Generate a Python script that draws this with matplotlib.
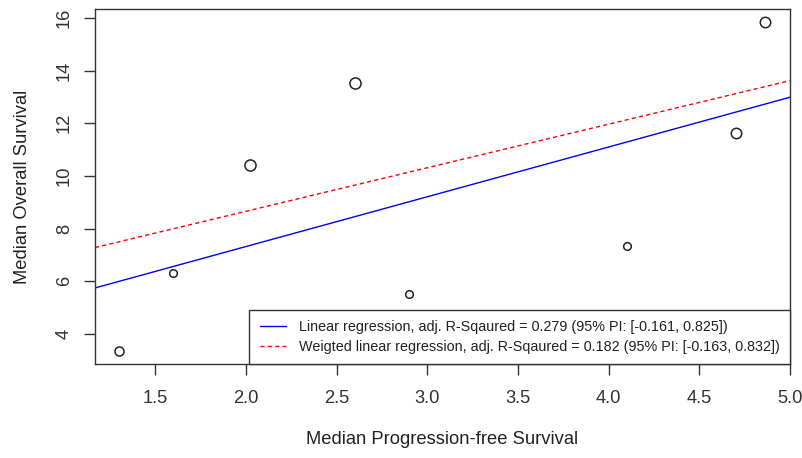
import matplotlib.pyplot as plt
import numpy as np

plt.rcParams['font.family'] = ['Liberation Sans', 'DejaVu Sans']

# median PFS / OS per study
pfs = [1.3, 1.6, 2.02, 2.6, 2.9, 4.1, 4.7, 4.86]
os_ = [3.37, 6.33, 10.4, 13.54, 5.52, 7.35, 11.62, 15.85]
marker_size = [6.5, 5.5, 8, 8, 5.5, 5.5, 7.5, 7.5]

# fitted lines: intercept, slope
lin_fit = [3.54, 1.89]
wlin_fit = [5.35, 1.654]

lin_label = 'Linear regression, adj. R-Sqaured = 0.279 (95% PI: [-0.161, 0.825])'
wlin_label = 'Weigted linear regression, adj. R-Sqaured = 0.182 (95% PI: [-0.163, 0.832])'

W, H = 803, 458
fig = plt.figure(figsize=(W / 100, H / 100), dpi=100)
ax = fig.add_axes([95 / W, 1 - 364 / H, (790 - 95) / W, (364 - 9) / H])

xlim = (1.168, 5.0)
ylim = (2.86, 16.34)
ax.set_xlim(xlim)
ax.set_ylim(ylim)

for x, y, s in zip(pfs, os_, marker_size):
    ax.plot(x, y, 'o', mfc='none', mec='#222222', mew=1.1, ms=s)

xx = np.array(xlim)
ax.plot(xx, lin_fit[0] + lin_fit[1] * xx, color='blue', lw=1, label=lin_label)
ax.plot(xx, wlin_fit[0] + wlin_fit[1] * xx, color='red', lw=1,
        dashes=(3, 2.3), label=wlin_label)

ax.set_xticks([1.5, 2.0, 2.5, 3.0, 3.5, 4.0, 4.5, 5.0])
ax.set_yticks([4, 6, 8, 10, 12, 14, 16])
ax.tick_params(direction='out', length=8, width=1, color='#333333',
               labelsize=13.2, labelcolor='#333333', pad=11)
ax.tick_params(axis='y', pad=8)
for lbl in ax.get_yticklabels():
    lbl.set_rotation(90)
    lbl.set_va('center')

for sp in ax.spines.values():
    sp.set_color('#333333')
    sp.set_linewidth(1)

ax.set_xlabel('Median Progression-free Survival', fontsize=13.2, color='#222222')
ax.set_ylabel('Median Overall Survival', fontsize=13.2, color='#222222')
ax.xaxis.set_label_coords(0.5, -0.19)
ax.yaxis.set_label_coords(-0.092, 0.5)

leg = ax.legend(loc='lower right', fontsize=10.4, frameon=True, fancybox=False,
                borderaxespad=0, handlelength=1.85, handletextpad=0.85,
                labelspacing=0.38, borderpad=0.72)
leg.get_frame().set_edgecolor('#333333')
leg.get_frame().set_linewidth(1)
leg.get_frame().set_alpha(1)
for t in leg.get_texts():
    t.set_color('#222222')

fig.savefig('out.png', dpi=100)
